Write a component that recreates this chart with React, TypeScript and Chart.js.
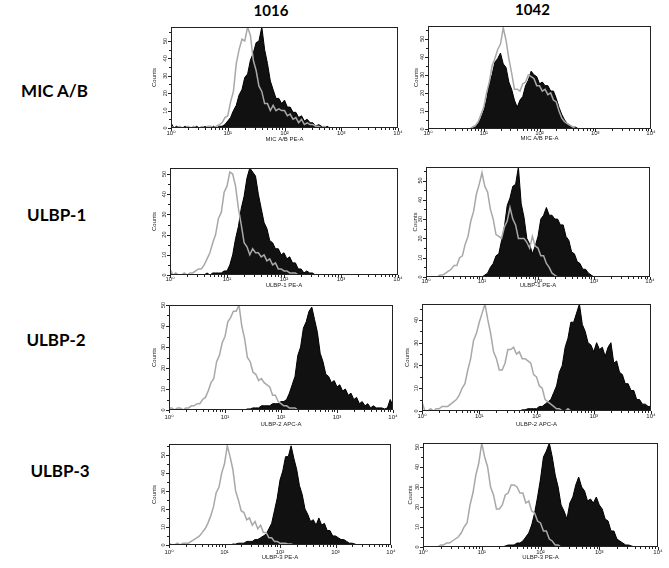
import React, { useEffect, useRef } from 'react';
import { Chart, registerables } from 'chart.js';

Chart.register(...registerables);

// ---------- data ----------
const LOG_STEP = 0.05; // bin width in decades (x = log10 fluorescence)
const X_TICKS = [0, 1, 2, 3, 4];
const X_TICK_LABELS = ['10⁰', '10¹', '10²', '10³', '10⁴'];
const Y_TICKS = [0, 10, 20, 30, 40, 50];
const COLUMNS = ['1016', '1042'];
const ROWS = ['MIC A/B', 'ULBP-1', 'ULBP-2', 'ULBP-3'];
const X_TITLES = ['MIC A/B PE-A', 'ULBP-1 PE-A', 'ULBP-2 APC-A', 'ULBP-3 PE-A'];
const Y_TITLE = 'Counts';

// isotype control (grey) and stained (black) histograms, 81 bins from 10^0 to 10^4
const MICAB_1016_ISO = [
  1, 0, 0, 1, 0, 0, 1, 0, 1, 0,
  0, 1, 0, 1, 1, 0, 1, 2, 3, 6,
  7, 15, 21, 37, 45, 51, 50, 58, 53, 39,
  33, 24, 21, 14, 14, 10, 13, 10, 11, 10,
  10, 7, 8, 5, 6, 3, 5, 2, 3, 2,
  2, 1, 1, 0, 1, 0, 0, 0, 0, 0,
  0, 0, 0, 0, 0, 0, 0, 0, 0, 0,
  0, 0, 0, 0, 0, 0, 0, 0, 0, 0,
  0,
];
const MICAB_1016_STAIN = [
  3, 0, 1, 0, 0, 1, 0, 0, 0, 1,
  0, 0, 1, 0, 0, 1, 0, 1, 1, 2,
  4, 6, 10, 13, 19, 22, 29, 31, 39, 43,
  49, 50, 58, 45, 37, 27, 22, 17, 17, 14,
  16, 12, 12, 9, 9, 6, 7, 4, 5, 3,
  3, 1, 2, 1, 0, 1, 0, 0, 0, 0,
  0, 0, 0, 0, 0, 0, 0, 0, 0, 0,
  0, 0, 0, 0, 0, 0, 0, 0, 0, 0,
  0,
];
const MICAB_1042_ISO = [
  0, 0, 0, 0, 0, 0, 0, 0, 0, 0,
  0, 0, 0, 0, 0, 0, 1, 2, 4, 8,
  12, 20, 26, 35, 39, 44, 47, 56, 49, 39,
  31, 22, 22, 21, 25, 26, 30, 29, 28, 24,
  24, 21, 22, 19, 20, 16, 15, 10, 6, 4,
  3, 2, 1, 0, 0, 0, 0, 0, 0, 0,
  0, 0, 0, 0, 0, 0, 0, 0, 0, 0,
  0, 0, 0, 0, 0, 0, 0, 0, 0, 0,
  0,
];
const MICAB_1042_STAIN = [
  0, 0, 0, 0, 0, 0, 0, 0, 0, 0,
  0, 0, 0, 0, 0, 0, 1, 1, 3, 6,
  10, 16, 25, 30, 37, 39, 42, 36, 34, 26,
  22, 16, 12, 16, 18, 24, 27, 32, 30, 29,
  25, 26, 24, 24, 21, 21, 17, 12, 8, 5,
  3, 2, 1, 1, 0, 0, 0, 0, 0, 0,
  0, 0, 0, 0, 0, 0, 0, 0, 0, 0,
  0, 0, 0, 0, 0, 0, 0, 0, 0, 0,
  0,
];
const ULBP1_1016_ISO = [
  3, 0, 1, 0, 0, 1, 0, 1, 1, 2,
  3, 3, 5, 8, 11, 16, 20, 28, 31, 41,
  44, 51, 50, 44, 33, 25, 16, 14, 10, 13,
  11, 11, 9, 10, 7, 8, 5, 6, 3, 3,
  2, 2, 1, 1, 1, 0, 0, 0, 0, 0,
  0, 0, 0, 0, 0, 0, 0, 0, 0, 0,
  0, 0, 0, 0, 0, 0, 0, 0, 0, 0,
  0, 0, 0, 0, 0, 0, 0, 0, 0, 0,
  0,
];
const ULBP1_1016_STAIN = [
  1, 0, 0, 0, 0, 0, 0, 0, 0, 0,
  0, 0, 0, 1, 0, 1, 1, 1, 1, 2,
  2, 5, 10, 18, 24, 33, 39, 48, 53, 51,
  49, 40, 33, 26, 23, 17, 16, 13, 13, 10,
  11, 8, 9, 6, 6, 3, 3, 1, 2, 1,
  1, 0, 0, 0, 0, 0, 0, 0, 0, 0,
  0, 0, 0, 0, 0, 0, 0, 0, 0, 0,
  0, 0, 0, 0, 0, 0, 0, 0, 0, 0,
  0,
];
const ULBP1_1042_ISO = [
  0, 0, 0, 0, 0, 1, 1, 2, 3, 4,
  6, 6, 10, 11, 17, 21, 29, 34, 43, 48,
  54, 47, 44, 35, 30, 22, 21, 20, 26, 29,
  36, 30, 27, 20, 20, 20, 18, 15, 21, 16,
  15, 11, 11, 7, 5, 2, 1, 0, 0, 0,
  0, 0, 0, 0, 0, 0, 0, 0, 0, 0,
  0, 0, 0, 0, 0, 0, 0, 0, 0, 0,
  0, 0, 0, 0, 0, 0, 0, 0, 0, 0,
  0,
];
const ULBP1_1042_STAIN = [
  0, 0, 0, 0, 0, 0, 0, 0, 0, 0,
  0, 0, 0, 0, 0, 0, 0, 0, 0, 0,
  0, 1, 2, 5, 7, 11, 12, 19, 26, 37,
  41, 47, 48, 57, 38, 31, 20, 17, 12, 16,
  21, 30, 32, 36, 32, 32, 30, 30, 27, 27,
  21, 19, 13, 12, 8, 7, 4, 4, 2, 1,
  0, 0, 0, 0, 0, 0, 0, 0, 0, 0,
  0, 0, 0, 0, 0, 0, 0, 0, 0, 0,
  0,
];
const ULBP2_1016_ISO = [
  1, 1, 0, 1, 1, 0, 1, 1, 2, 2,
  3, 3, 5, 6, 9, 13, 15, 23, 26, 32,
  35, 42, 44, 47, 47, 50, 40, 34, 25, 23,
  18, 17, 14, 15, 13, 12, 11, 7, 7, 4,
  3, 2, 2, 1, 1, 1, 0, 0, 0, 0,
  0, 0, 0, 0, 0, 0, 0, 0, 0, 0,
  0, 0, 0, 0, 0, 0, 0, 0, 0, 0,
  0, 0, 0, 0, 0, 0, 0, 0, 0, 0,
  0,
];
const ULBP2_1016_STAIN = [
  0, 0, 0, 0, 0, 0, 0, 0, 0, 0,
  0, 0, 0, 0, 0, 0, 0, 0, 0, 0,
  0, 0, 0, 0, 0, 0, 0, 0, 0.5, 0.5,
  1, 1, 1, 2, 2, 2, 2, 3, 3, 3,
  4, 4, 5, 8, 12, 16, 26, 30, 39, 42,
  47, 49, 43, 37, 27, 23, 17, 16, 13, 14,
  11, 12, 9, 10, 7, 8, 5, 6, 3, 4,
  2, 3, 1, 2, 1, 1, 1, 0.5, 1, 5,
  2,
];
const ULBP2_1042_ISO = [
  4, 0, 0, 1, 0, 1, 1, 2, 2, 2,
  3, 4, 5, 7, 10, 12, 18, 23, 31, 34,
  39, 43, 47, 40, 34, 26, 23, 18, 18, 21,
  27, 27, 28, 25, 26, 23, 23, 22, 21, 16,
  15, 11, 10, 5, 4, 3, 2, 1, 1, 0,
  0, 1, 0, 0, 0, 0, 0, 0, 0, 0,
  0, 0, 0, 0, 0, 0, 0, 0, 0, 0,
  0, 0, 0, 0, 0, 0, 0, 0, 0, 0,
  0,
];
const ULBP2_1042_STAIN = [
  0, 0, 0, 0, 0, 0, 0, 0, 0, 0,
  0, 0, 0, 0, 0, 0, 0, 0, 0, 0,
  0, 0, 0, 0, 0, 0, 0, 0, 0, 0,
  0, 0, 0, 0, 0, 0.5, 0.5, 1, 1, 1,
  1, 2, 2, 3, 4, 5, 8, 11, 17, 20,
  28, 32, 39, 39, 43, 47, 38, 35, 30, 29,
  26, 30, 27, 28, 24, 28, 30, 21, 22, 17,
  16, 12, 12, 9, 9, 5, 5, 3, 3, 2,
  2,
];
const ULBP3_1016_ISO = [
  1, 0, 0, 1, 0, 1, 1, 1, 2, 3,
  4, 5, 7, 9, 12, 16, 21, 29, 32, 40,
  45, 55, 49, 42, 30, 25, 19, 18, 14, 15,
  11, 13, 9, 11, 7, 7, 4, 4, 2, 2,
  1, 1, 1, 0.5, 0.5, 0, 0, 0, 0, 0,
  0, 0, 0, 0, 0, 0, 0, 0, 0, 0,
  0, 0, 0, 0, 0, 0, 0, 0, 0, 0,
  0, 0, 0, 0, 0, 0, 0, 0, 0, 0,
  0,
];
const ULBP3_1016_STAIN = [
  0, 0, 0, 0, 0, 0, 0, 0, 0, 0,
  0, 0, 0, 0, 0, 0, 0, 0, 0, 0,
  0, 0, 0, 0.5, 0.5, 1, 1, 1, 2, 2,
  2, 3, 3, 4, 5, 6, 9, 12, 19, 26,
  36, 41, 49, 49, 55, 48, 42, 33, 28, 20,
  17, 13, 14, 11, 15, 11, 12, 8, 8, 5,
  5, 4, 3, 3, 2, 1, 1, 0.5, 0, 0,
  0, 0, 0, 0, 0, 0, 0, 0, 0, 0,
  0,
];
const ULBP3_1042_ISO = [
  0, 0, 0, 0, 0, 0, 1, 1, 2, 2,
  3, 4, 5, 7, 10, 12, 21, 27, 36, 42,
  52, 45, 40, 30, 26, 19, 19, 21, 26, 27,
  31, 31, 30, 27, 27, 22, 23, 18, 17, 13,
  12, 8, 8, 4, 3, 1, 1, 0, 0, 0,
  0, 0, 0, 0, 0, 0, 0, 0, 0, 0,
  0, 0, 0, 0, 0, 0, 0, 0, 0, 0,
  0, 0, 0, 0, 0, 0, 0, 0, 0, 0,
  0,
];
const ULBP3_1042_STAIN = [
  0, 0, 0, 0, 0, 0, 0, 0, 0, 0,
  0, 0, 0, 0, 0, 0, 0, 0, 0, 0,
  0, 0, 0, 0, 0, 0, 0, 0, 0.5, 1,
  1, 1, 2, 2, 3, 5, 7, 11, 17, 25,
  34, 45, 48, 52, 45, 36, 30, 21, 18, 14,
  22, 25, 31, 35, 30, 28, 23, 24, 22, 25,
  21, 19, 14, 13, 8, 8, 4, 3, 2, 1,
  1, 0.5, 0, 0, 0, 0, 0, 0, 0, 0,
  0,
];

const Y_MAX = [58, 57, 53, 57, 50, 47, 56, 52];

// ---------- layout ----------
const PAD_T = 3;
const PAD_R = 7;
const FONT = '"Liberation Sans", Arial, "DejaVu Sans", sans-serif';

type Spec = {
  left: number; top: number; right: number; bottom: number;
  axW: number; axH: number; labelPad: number;
  iso: number[]; stain: number[]; yMax: number; xTitle: string;
};

const PLOT_BOXES = [
  // left, top, right, bottom, y-title gap, x-title gap, x-label pad
  [171, 27, 398, 128, 16, 11, 2],
  [428, 26, 651, 129, 11, 9, 1],
  [170, 168, 398, 275, 15, 10, 1],
  [426, 167, 650, 277, 10, 8, 1],
  [169, 305, 393, 410, 14, 14, 4],
  [422, 304, 651, 411, 14, 13, 2],
  [169, 444, 391, 545, 14, 12, 4],
  [423, 443, 658, 547, 12, 10, 2],
];

const SERIES = [
  [MICAB_1016_ISO, MICAB_1016_STAIN],
  [MICAB_1042_ISO, MICAB_1042_STAIN],
  [ULBP1_1016_ISO, ULBP1_1016_STAIN],
  [ULBP1_1042_ISO, ULBP1_1042_STAIN],
  [ULBP2_1016_ISO, ULBP2_1016_STAIN],
  [ULBP2_1042_ISO, ULBP2_1042_STAIN],
  [ULBP3_1016_ISO, ULBP3_1016_STAIN],
  [ULBP3_1042_ISO, ULBP3_1042_STAIN],
];

const SPECS: Spec[] = PLOT_BOXES.map((b, i) => ({
  left: b[0], top: b[1], right: b[2], bottom: b[3],
  axW: Math.round(b[4] + 4), axH: Math.round(b[5] + 4), labelPad: b[6],
  iso: SERIES[i][0], stain: SERIES[i][1], yMax: Y_MAX[i],
  xTitle: X_TITLES[Math.floor(i / 2)],
}));

const framePlugin = {
  id: 'frame',
  afterDatasetsDraw(chart: any) {
    const { ctx, chartArea: a, scales } = chart;
    ctx.save();
    ctx.strokeStyle = '#222';
    ctx.lineWidth = 1;
    ctx.strokeRect(a.left + 0.5, a.top + 0.5, a.right - a.left - 1, a.bottom - a.top - 1);
    ctx.beginPath();
    const xs = scales.x;
    for (let d = 0; d <= 4; d++) {
      for (let k = 1; k <= 9; k++) {
        const v = d + Math.log10(k);
        if (v > 4.0001) break;
        const px = Math.round(xs.getPixelForValue(v)) + 0.5;
        const len = k === 1 ? 3 : 2;
        ctx.moveTo(px, a.bottom);
        ctx.lineTo(px, a.bottom + len);
      }
    }
    const ys = scales.y;
    for (let v = 0; v <= ys.max; v += 5) {
      const py = Math.round(ys.getPixelForValue(v)) + 0.5;
      const len = v % 10 === 0 ? 3 : 2;
      ctx.moveTo(a.left - len, py);
      ctx.lineTo(a.left, py);
    }
    ctx.stroke();
    ctx.restore();
  },
};

function makeConfig(s: Spec): any {
  const toPoints = (arr: number[]) => arr.map((v, i) => ({ x: i * LOG_STEP, y: v }));
  const small = { family: FONT, size: 6 };
  return {
    type: 'line',
    data: {
      datasets: [
        {
          data: toPoints(s.iso),
          borderColor: '#a8a8a8',
          borderWidth: 1.5,
          fill: false,
          pointRadius: 0,
          tension: 0,
        },
        {
          data: toPoints(s.stain),
          borderColor: '#000',
          backgroundColor: '#111',
          borderWidth: 1,
          fill: 'origin',
          pointRadius: 0,
          tension: 0,
        },
      ],
    },
    options: {
      animation: false,
      responsive: false,
      maintainAspectRatio: false,
      devicePixelRatio: 1,
      events: [],
      layout: { padding: { top: PAD_T, right: PAD_R, left: 0, bottom: 0 } },
      plugins: { legend: { display: false }, tooltip: { enabled: false } },
      scales: {
        x: {
          type: 'linear',
          min: 0,
          max: 4,
          afterBuildTicks: (sc: any) => { sc.ticks = X_TICKS.map((v) => ({ value: v })); },
          ticks: {
            autoSkip: false,
            maxRotation: 0,
            minRotation: 0,
            padding: s.labelPad,
            color: '#222',
            font: small,
            callback: (v: number) => X_TICK_LABELS[X_TICKS.indexOf(Math.round(v))] ?? '',
          },
          grid: { display: false, drawTicks: false, tickLength: 0 },
          border: { display: false },
          title: { display: true, text: s.xTitle, color: '#222', font: small, padding: 0 },
          afterFit: (sc: any) => { sc.height = s.axH; sc.paddingLeft = 0; sc.paddingRight = 0; },
        },
        y: {
          type: 'linear',
          min: 0,
          max: s.yMax,
          afterBuildTicks: (sc: any) => { sc.ticks = Y_TICKS.filter((v) => v <= s.yMax).map((v) => ({ value: v })); },
          ticks: {
            minRotation: 90,
            maxRotation: 90,
            crossAlign: 'center',
            padding: 2,
            color: '#222',
            font: { family: FONT, size: 5.5 },
          },
          grid: { display: false, drawTicks: false, tickLength: 0 },
          border: { display: false },
          title: { display: true, text: Y_TITLE, color: '#222', font: small, padding: 0 },
          afterFit: (sc: any) => { sc.width = s.axW; sc.paddingTop = 0; sc.paddingBottom = 0; },
        },
      },
    },
    plugins: [framePlugin],
  };
}

function Panel({ spec }: { spec: Spec }) {
  const ref = useRef<HTMLCanvasElement>(null);
  const w = spec.right - spec.left + spec.axW + PAD_R;
  const h = spec.bottom - spec.top + PAD_T + spec.axH;
  useEffect(() => {
    const chart = new Chart(ref.current as HTMLCanvasElement, makeConfig(spec));
    return () => chart.destroy();
  }, []);
  return (
    <canvas
      ref={ref}
      width={w}
      height={h}
      style={{ position: 'absolute', left: spec.left - spec.axW, top: spec.top - PAD_T, width: w, height: h }}
    />
  );
}

const labelStyle = (x: number, top: number, size: number): React.CSSProperties => ({
  position: 'absolute',
  left: x,
  top,
  transform: 'translateX(-50%)',
  font: `bold ${size}px Lato, "Open Sans", sans-serif`,
  lineHeight: 1,
  whiteSpace: 'nowrap',
  color: '#000',
});

const COL_POS = [[271, 3.4], [532.5, 1.7]];
const ROW_POS = [[54.5, 81.6], [56.7, 205.6], [56, 330.9], [60, 461.6]];

export default function App() {
  return (
    <div style={{ position: 'absolute', left: 0, top: 0, width: 669, height: 568, background: '#fff', overflow: 'hidden' }}>
      {COLUMNS.map((c, i) => (
        <div key={c} style={labelStyle(COL_POS[i][0], COL_POS[i][1], 15)}>{c}</div>
      ))}
      {ROWS.map((r, i) => (
        <div key={r} style={labelStyle(ROW_POS[i][0], ROW_POS[i][1], 17)}>{r}</div>
      ))}
      {SPECS.map((s, i) => (
        <Panel key={i} spec={s} />
      ))}
    </div>
  );
}
